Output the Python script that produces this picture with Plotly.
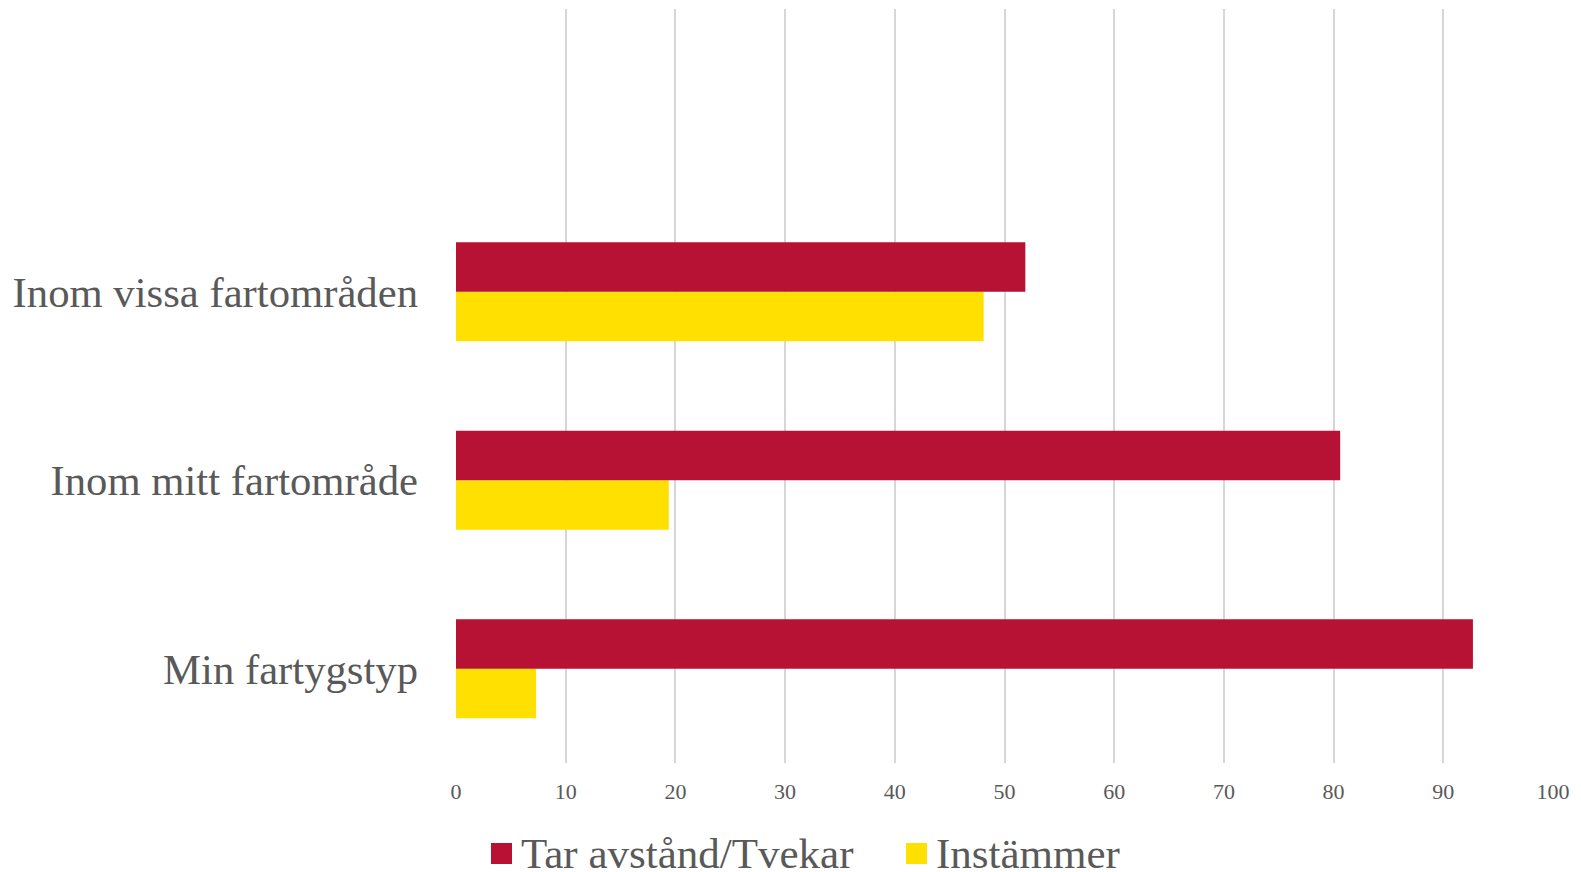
import plotly.graph_objects as go

categories = ["Min fartygstyp", "Inom mitt fartområde", "Inom vissa fartområden"]
tar_avstand = [92.7, 80.6, 51.9]
instammer = [7.3, 19.4, 48.1]
series_names = ["Tar avstånd/Tvekar", "Instämmer"]
series_colors = ["#B71234", "#FFE000"]
x_ticks = list(range(0, 101, 10))

# the page body has an 8px default margin, so the figure is drawn 8px in and down
OFF = 8
W, H = 1581 - OFF, 872 - OFF
ML, MR, MT, MB = 456 - OFF, 28, 9 - OFF, 872 - 763
PW, PH = W - ML - MR, H - MT - MB

def px_x(x):  # screen pixel -> paper
    return (x - OFF - ML) / PW

def px_y(y):
    return (H - MB - (y - OFF)) / PH

FONT = "Liberation Serif, Times New Roman, serif"
GREY = "#595959"

fig = go.Figure()
# yellow first so that the red bar sits on top within each group
fig.add_trace(go.Bar(y=categories, x=instammer, orientation="h", name=series_names[1],
                     marker=dict(color=series_colors[1], line=dict(width=0)), showlegend=False))
fig.add_trace(go.Bar(y=categories, x=tar_avstand, orientation="h", name=series_names[0],
                     marker=dict(color=series_colors[0], line=dict(width=0)), showlegend=False))

# manual legend (large square markers as in the reference)
legend_items = [(series_names[0], series_colors[0], 491), (series_names[1], series_colors[1], 906)]
shapes, annotations = [], []
for name, color, x0 in legend_items:
    shapes.append(dict(type="rect", xref="paper", yref="paper",
                       x0=px_x(x0), x1=px_x(x0 + 21), y0=px_y(864), y1=px_y(843),
                       fillcolor=color, line=dict(width=0)))
    annotations.append(dict(xref="paper", yref="paper", x=px_x(x0 + 28), y=px_y(854),
                            xanchor="left", yanchor="middle", showarrow=False, text=name,
                            font=dict(family=FONT, size=43, color=GREY)))

fig.update_layout(
    width=W, height=H,
    margin=dict(l=ML, r=MR, t=MT, b=MB),
    paper_bgcolor="white", plot_bgcolor="white",
    barmode="group", bargap=0.476, bargroupgap=0,
    shapes=shapes, annotations=annotations,
    font=dict(family=FONT, color=GREY),
)
fig.update_xaxes(range=[0, 100], tickvals=x_ticks, showgrid=True, gridcolor="#D6D6D6", gridwidth=1.5,
                 zeroline=False, showline=False, ticks="",
                 tickfont=dict(family=FONT, size=22, color=GREY), ticklabelstandoff=13)
fig.update_yaxes(type="category", categoryorder="array", categoryarray=categories,
                 range=[-0.5, 3.5], showgrid=False, zeroline=False, showline=False, ticks="",
                 tickfont=dict(family=FONT, size=42.7, color=GREY), ticklabelstandoff=37)

fig.write_html("out.html")
